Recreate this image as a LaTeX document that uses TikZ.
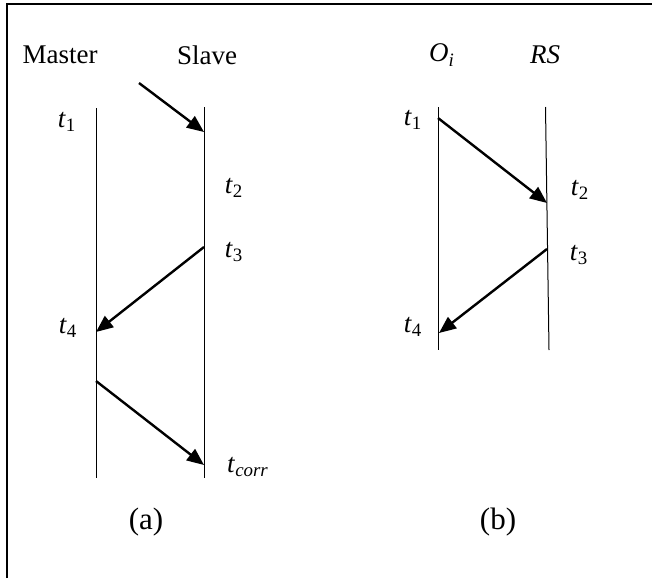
\documentclass[tikz,border=0pt]{standalone}
\usepackage{fontspec}
\setmainfont{Liberation Serif}
\usetikzlibrary{arrows.meta}
\newcommand{\tsub}[1]{\textit{t}\textsubscript{#1}}
\begin{document}
\begin{tikzpicture}[x=.5pt,y=-.5pt,font=\fontsize{13.5}{16}\selectfont,
life/.style={line width=.5pt},
msg/.style={-{Triangle[length=8.5pt,width=7pt]},line width=1.2pt},
lbl/.style={inner sep=0pt},
caption/.style={inner sep=0pt,font=\fontsize{15.5}{18}\selectfont}]
\useasboundingbox (0,0) rectangle (652,578);
\draw[line width=1pt] (7,578) -- (7,4) -- (652,4);
% (a) master / slave
\node[lbl](m) at (60,55){Master};\node[lbl](s) at (207,55){Slave};
\coordinate (mtop) at (96,108);\coordinate (mbot) at (96,478);
\coordinate (stop) at (204,107);\coordinate (sbot) at (204,478);
\draw[life](mtop)--(mbot);\draw[life](stop)--(sbot);
\coordinate (in) at (139,83);\coordinate (sa) at (204,132);
\coordinate (sb) at (204,247);\coordinate (ma) at (96,332);
\coordinate (mb) at (96,381);\coordinate (sc) at (204,465);
\draw[msg](in)--(sa);\draw[msg](sb)--(ma);\draw[msg](mb)--(sc);
\node[lbl](ta1) at (67,122){\tsub{1}};\node[lbl](ta2) at (234,188){\tsub{2}};
\node[lbl](ta3) at (234,252){\tsub{3}};\node[lbl](ta4) at (68,328){\tsub{4}};
\node[lbl](tac) at (248,467){\tsub{\itshape corr}};
\node[caption](capa) at (146,522){(a)};
% (b) O_i / RS
\node[lbl](o) at (442,55){\textit{O}\textsubscript{\itshape i}};\node[lbl](rs) at (545,55){\textit{RS}};
\coordinate (otop) at (438,107);\coordinate (obot) at (438,350);
\coordinate (rtop) at (545.5,107);\coordinate (rbot) at (549,350);
\draw[life](otop)--(obot);\draw[life](rtop)--(rbot);
\coordinate (oa) at (438,118);\coordinate (ra) at (547,203);
\coordinate (rb) at (547,249);\coordinate (ob) at (439,333);
\draw[msg](oa)--(ra);\draw[msg](rb)--(ob);
\node[lbl](tb1) at (413,120){\tsub{1}};\node[lbl](tb2) at (580,190){\tsub{2}};
\node[lbl](tb3) at (579,255){\tsub{3}};\node[lbl](tb4) at (413,327){\tsub{4}};
\node[caption](capb) at (498,522){(b)};
\end{tikzpicture}
\end{document}
